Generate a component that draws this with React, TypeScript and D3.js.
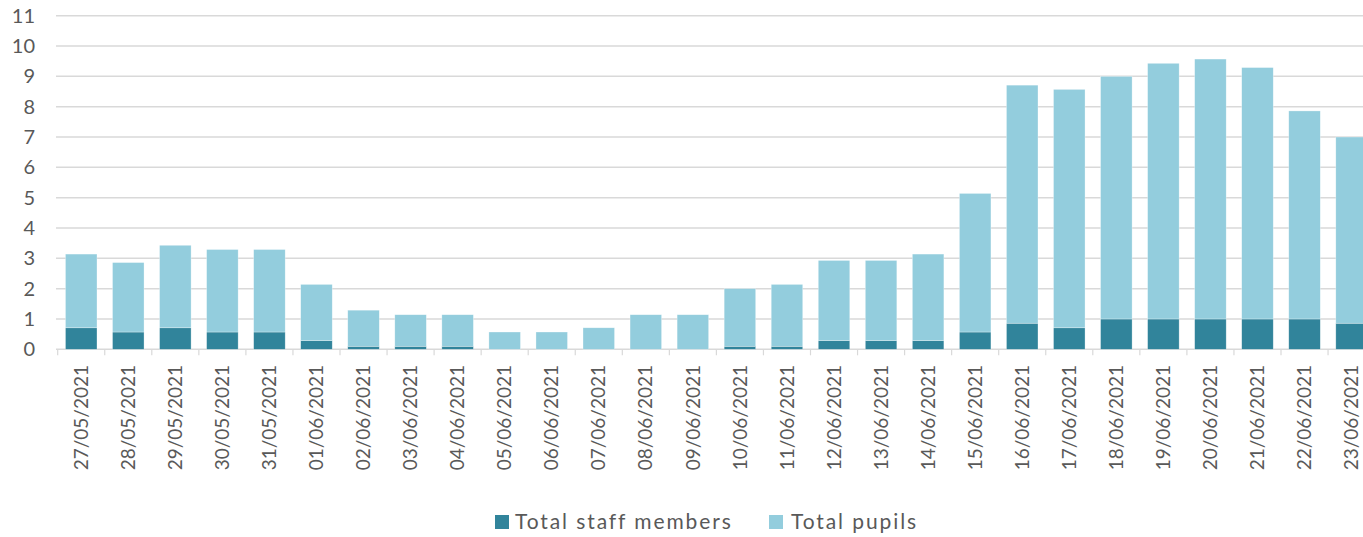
import { useMemo } from 'react';
import * as d3 from 'd3';

const dates = [
  '27/05/2021', '28/05/2021', '29/05/2021', '30/05/2021', '31/05/2021', '01/06/2021', '02/06/2021',
  '03/06/2021', '04/06/2021', '05/06/2021', '06/06/2021', '07/06/2021', '08/06/2021', '09/06/2021',
  '10/06/2021', '11/06/2021', '12/06/2021', '13/06/2021', '14/06/2021', '15/06/2021', '16/06/2021',
  '17/06/2021', '18/06/2021', '19/06/2021', '20/06/2021', '21/06/2021', '22/06/2021', '23/06/2021',
];

const staff = [
  0.71, 0.57, 0.71, 0.57, 0.57, 0.29, 0.1, 0.1, 0.1, 0, 0, 0, 0, 0,
  0.1, 0.1, 0.29, 0.29, 0.29, 0.57, 0.86, 0.71, 1.0, 1.0, 1.0, 1.0, 1.0, 0.86,
];

const pupils = [
  2.43, 2.29, 2.72, 2.72, 2.72, 1.85, 1.19, 1.04, 1.04, 0.57, 0.57, 0.71, 1.14, 1.14,
  1.9, 2.04, 2.64, 2.64, 2.85, 4.57, 7.85, 7.86, 8.0, 8.43, 8.57, 8.29, 6.86, 6.14,
];

const yTicks = [0, 1, 2, 3, 4, 5, 6, 7, 8, 9, 10, 11];

const seriesNames = ['Total staff members', 'Total pupils'];
const seriesColors = ['#31849B', '#93CDDD'];

const W = 1363;
const H = 537;
const FONT = 'Lato, "Open Sans", sans-serif';

export default function App() {
  const { x, y, layers } = useMemo(() => {
    // plot runs past the right edge of the window, as in the source picture
    const x = d3.scaleBand<string>().domain(dates).range([57.7, 1375.1]).paddingInner(0.33).paddingOuter(0.165);
    const y = d3.scaleLinear().domain([0, 11]).range([349.3, 15.7]);
    const rows = dates.map((d, i) => ({ date: d, staff: staff[i], pupils: pupils[i] }));
    const layers = d3.stack<{ date: string; staff: number; pupils: number }>().keys(['staff', 'pupils'])(rows);
    return { x, y, layers };
  }, []);

  const step = x.step();
  const left = x.range()[0];

  return (
    <svg width={W} height={H} style={{ position: 'absolute', left: 0, top: 0, display: 'block' }} fontFamily={FONT}>
      {yTicks.map((t) => (
        <g key={t}>
          <line x1={56} x2={W} y1={y(t)} y2={y(t)} stroke="#d9d9d9" strokeWidth={1.5} />
          <text x={35} y={y(t)} dy="0.35em" textAnchor="end" fontSize={20} fill="#595959">
            {t}
          </text>
        </g>
      ))}

      {layers.map((layer, li) => (
        <g key={layer.key} fill={seriesColors[li]}>
          {layer.map((d, i) => {
            const h = y(d[0]) - y(d[1]);
            if (h <= 0) return null;
            return (
              <rect
                key={dates[i]}
                x={x(dates[i])}
                y={y(d[1])}
                width={x.bandwidth()}
                height={h}
                stroke="#ffffff"
                strokeOpacity={0.5}
                strokeWidth={0.6}
              />
            );
          })}
        </g>
      ))}

      {d3.range(dates.length + 1).map((i) => (
        <line key={i} x1={left + i * step} x2={left + i * step} y1={y(0)} y2={y(0) + 6} stroke="#d9d9d9" strokeWidth={1.2} />
      ))}

      {dates.map((d) => {
        const cx = (x(d) ?? 0) + x.bandwidth() / 2;
        return (
          <text
            key={d}
            transform={`translate(${cx},365) rotate(-90)`}
            dy="0.35em"
            textAnchor="end"
            fontSize={19}
            fill="#595959"
          >
            {d}
          </text>
        );
      })}

      <g transform="translate(495,522)">
        <rect x={0} y={-7} width={14} height={14} fill={seriesColors[0]} />
        <text x={20} dy="0.35em" fontSize={21} letterSpacing={1.9} fill="#595959">{seriesNames[0]}</text>
        <rect x={274} y={-7} width={14} height={14} fill={seriesColors[1]} />
        <text x={296} dy="0.35em" fontSize={21} letterSpacing={1.9} fill="#595959">{seriesNames[1]}</text>
      </g>
    </svg>
  );
}
